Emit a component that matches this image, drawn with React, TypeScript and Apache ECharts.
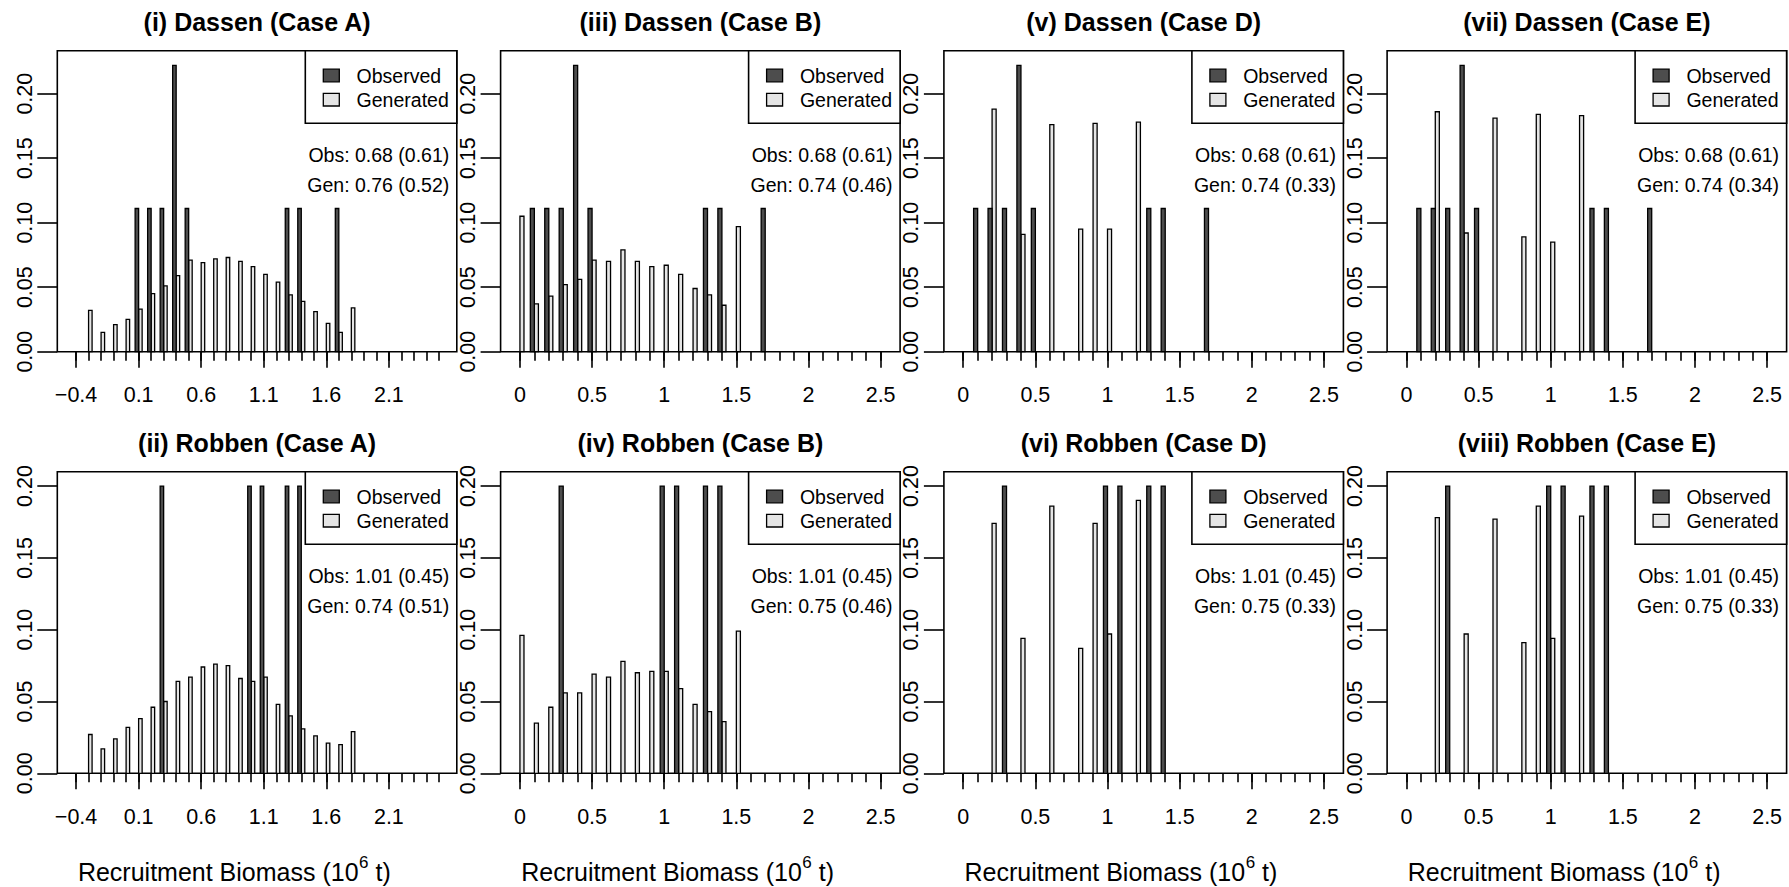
import React, { useEffect, useRef } from "react";
import * as echarts from "echarts";

const FONT = '"Liberation Sans", Arial, Helvetica, sans-serif';

// ---------------- data ----------------
const dassenTitles = ["(i) Dassen (Case A)", "(iii) Dassen (Case B)", "(v) Dassen (Case D)", "(vii) Dassen (Case E)"];
const robbenTitles = ["(ii) Robben (Case A)", "(iv) Robben (Case B)", "(vi) Robben (Case D)", "(viii) Robben (Case E)"];

const dassenObsStat = "Obs: 0.68 (0.61)";
const robbenObsStat = "Obs: 1.01 (0.45)";
const dassenGenStats = ["Gen: 0.76 (0.52)", "Gen: 0.74 (0.46)", "Gen: 0.74 (0.33)", "Gen: 0.74 (0.34)"];
const robbenGenStats = ["Gen: 0.74 (0.51)", "Gen: 0.75 (0.46)", "Gen: 0.75 (0.33)", "Gen: 0.75 (0.33)"];

const legendLabels = ["Observed", "Generated"];
const xTitleParts = ["Recruitment Biomass (10", "6", " t)"];

// observed relative frequencies (same in every case)
const dassenObsBins = [0.1, 0.2, 0.3, 0.4, 0.5, 1.3, 1.4, 1.7];
const dassenObsFreq = [0.111, 0.111, 0.111, 0.222, 0.111, 0.111, 0.111, 0.111];
const robbenObsBins = [0.3, 1.0, 1.1, 1.3, 1.4];
const robbenObsFreq = [0.2, 0.2, 0.2, 0.2, 0.2];

// generated relative frequencies
const genBinsA = [-0.3, -0.2, -0.1, 0.0, 0.1, 0.2, 0.3, 0.4, 0.5, 0.6, 0.7, 0.8, 0.9, 1.0, 1.1, 1.2, 1.3, 1.4, 1.5, 1.6, 1.7, 1.8];
const dassenGenA = [0.032, 0.015, 0.021, 0.025, 0.033, 0.045, 0.051, 0.059, 0.071, 0.069, 0.072, 0.073, 0.070, 0.066, 0.060, 0.054, 0.044, 0.039, 0.031, 0.022, 0.015, 0.034];
const robbenGenA = [0.027, 0.017, 0.024, 0.032, 0.038, 0.046, 0.050, 0.064, 0.067, 0.074, 0.076, 0.075, 0.066, 0.064, 0.067, 0.048, 0.040, 0.031, 0.026, 0.021, 0.020, 0.029];

const genBinsB = [0.0, 0.1, 0.2, 0.3, 0.4, 0.5, 0.6, 0.7, 0.8, 0.9, 1.0, 1.1, 1.2, 1.3, 1.4, 1.5];
const dassenGenB = [0.105, 0.037, 0.043, 0.052, 0.056, 0.071, 0.070, 0.079, 0.070, 0.066, 0.067, 0.060, 0.049, 0.044, 0.036, 0.097];
const robbenGenB = [0.096, 0.035, 0.046, 0.056, 0.056, 0.069, 0.067, 0.078, 0.070, 0.071, 0.071, 0.059, 0.048, 0.043, 0.036, 0.099];

const genBinsDE = [0.2, 0.4, 0.6, 0.8, 0.9, 1.0, 1.2];
const dassenGenD = [0.188, 0.091, 0.176, 0.095, 0.177, 0.095, 0.178];
const robbenGenD = [0.174, 0.094, 0.186, 0.087, 0.174, 0.097, 0.190];
const dassenGenE = [0.186, 0.092, 0.181, 0.089, 0.184, 0.085, 0.183];
const robbenGenE = [0.178, 0.097, 0.177, 0.091, 0.186, 0.094, 0.179];

// axis ticks
const yTickValues = [0, 0.05, 0.1, 0.15, 0.2];
const yTickLabels = ["0.00", "0.05", "0.10", "0.15", "0.20"];
const yMaxDassen = 0.2333;
const yMaxRobben = 0.21;

const xMajorA = [-0.4, 0.1, 0.6, 1.1, 1.6, 2.1];
const xMajorLabelsA = ["\u22120.4", "0.1", "0.6", "1.1", "1.6", "2.1"];
const xMajorB = [0, 0.5, 1, 1.5, 2, 2.5];
const xMajorLabelsB = ["0", "0.5", "1", "1.5", "2", "2.5"];
const xMinorStart = [-0.4, 0, 0, 0];
const xMinorEnd = 2.5;

// ---------------- layout / style ----------------
const W = 1789;
const H = 887;
const COL_LEFT = [57.3, 500.6, 943.9, 1387.1];
const BOX_W = 399.5;
const ROW_TOP = [50.7, 471.7];
const ROW_BOTTOM = [351.7, 773.3];
const X_RANGE_A = [-0.55, 2.643];
const X_RANGE_B = [-0.134, 2.635];
const BAR_W = 0.028; // bar width in data units
const OBS_COLOR = "#4d4d4d";
const GEN_COLOR = "#e5e5e5";
const LINE_W = 1.6;
const BAR_LINE_W = 1.3;
const TICK_FS = 21.5;
const LEG_FS = 19.5;
const TITLE_FS = 25;
const XTITLE_FS = 25;
const SUP_FS = 17;

function measure(text: string, size: number, weight = "normal") {
  const c = document.createElement("canvas").getContext("2d");
  if (!c) return text.length * size * 0.55;
  c.font = `${weight} ${size}px "Liberation Sans", Arial, sans-serif`;
  return c.measureText(text).width;
}

function minorTicks(start: number) {
  const out: number[] = [];
  for (let k = 0; ; k++) {
    const v = Math.round((start + k * 0.1) * 10) / 10;
    if (v > xMinorEnd + 1e-9) break;
    out.push(v);
  }
  return out;
}

function buildOption() {
  const panels: any[] = [];
  const genD = [dassenGenA, dassenGenB, dassenGenD, dassenGenE];
  const genR = [robbenGenA, robbenGenB, robbenGenD, robbenGenE];
  const genBins = [genBinsA, genBinsB, genBinsDE, genBinsDE];
  for (let c = 0; c < 4; c++) {
    panels.push({
      row: 0, col: c, title: dassenTitles[c], obsBins: dassenObsBins, obsFreq: dassenObsFreq,
      genBins: genBins[c], genFreq: genD[c], stats: [dassenObsStat, dassenGenStats[c]], yMax: yMaxDassen,
    });
    panels.push({
      row: 1, col: c, title: robbenTitles[c], obsBins: robbenObsBins, obsFreq: robbenObsFreq,
      genBins: genBins[c], genFreq: genR[c], stats: [robbenObsStat, robbenGenStats[c]], yMax: yMaxRobben,
    });
  }

  const grids: any[] = [];
  const xAxes: any[] = [];
  const yAxes: any[] = [];
  const series: any[] = [];
  const elements: any[] = [];

  panels.forEach((p, i) => {
    const left = COL_LEFT[p.col];
    const top = ROW_TOP[p.row];
    const bottom = ROW_BOTTOM[p.row];
    const right = left + BOX_W;
    const isA = p.col === 0;
    const range = isA ? X_RANGE_A : X_RANGE_B;
    const majors = isA ? xMajorA : xMajorB;
    const majorLabels = isA ? xMajorLabelsA : xMajorLabelsB;
    const minors = minorTicks(xMinorStart[p.col]);

    grids.push({
      left, top, width: BOX_W, height: bottom - top,
      show: true, borderColor: "#000", borderWidth: LINE_W, backgroundColor: "transparent",
      containLabel: false,
    });
    // minor ticks axis (series bound here)
    xAxes.push({
      type: "value", gridIndex: i, min: range[0], max: range[1], position: "bottom",
      axisLine: { show: false, onZero: false },
      splitLine: { show: false },
      axisTick: { show: true, length: 9, customValues: minors, lineStyle: { color: "#000", width: LINE_W } },
      axisLabel: { show: false },
    });
    // major ticks + labels axis
    xAxes.push({
      type: "value", gridIndex: i, min: range[0], max: range[1], position: "bottom",
      axisLine: { show: false, onZero: false },
      splitLine: { show: false },
      axisTick: { show: true, length: 16, customValues: majors, lineStyle: { color: "#000", width: LINE_W } },
      axisLabel: {
        show: true, customValues: majors, margin: 32.5, fontSize: TICK_FS, color: "#000", fontFamily: FONT,
        formatter: (v: number) => {
          const k = majors.findIndex((m) => Math.abs(m - v) < 1e-6);
          return k >= 0 ? majorLabels[k] : "";
        },
      },
    });
    yAxes.push({
      type: "value", gridIndex: i, min: 0, max: p.yMax, position: "left",
      axisLine: { show: false, onZero: false },
      splitLine: { show: false },
      axisTick: { show: true, length: 20, customValues: yTickValues, lineStyle: { color: "#000", width: LINE_W } },
      axisLabel: {
        show: true, customValues: yTickValues, rotate: 90, margin: 21.5, fontSize: TICK_FS, color: "#000", fontFamily: FONT,
        formatter: (v: number) => {
          const k = yTickValues.findIndex((m) => Math.abs(m - v) < 1e-6);
          return k >= 0 ? yTickLabels[k] : "";
        },
      },
    });

    const makeSeries = (bins: number[], freq: number[], fill: string, side: number, name: string) => ({
      type: "custom",
      name,
      xAxisIndex: i * 2,
      yAxisIndex: i,
      data: bins.map((b, k) => [b, freq[k]]),
      renderItem: (_params: any, api: any) => {
        const t = api.value(0);
        const v = api.value(1);
        const x0 = side < 0 ? t - BAR_W : t;
        const x1 = side < 0 ? t : t + BAR_W;
        const a = api.coord([x0, v]);
        const b = api.coord([x1, 0]);
        return {
          type: "rect",
          shape: { x: a[0], y: a[1], width: b[0] - a[0], height: b[1] - a[1] },
          style: { fill, stroke: "#000", lineWidth: BAR_LINE_W },
        };
      },
    });
    series.push(makeSeries(p.genBins, p.genFreq, GEN_COLOR, 1, legendLabels[1]));
    series.push(makeSeries(p.obsBins, p.obsFreq, OBS_COLOR, -1, legendLabels[0]));

    // panel title
    elements.push({
      type: "text", x: left + BOX_W / 2, y: top - 28.7, z: 100,
      style: {
        text: p.title, fontSize: TITLE_FS, fontWeight: "bold", fontFamily: FONT, fill: "#000",
        align: "center", verticalAlign: "middle", textAlign: "center", textVerticalAlign: "middle",
      },
    });

    // legend box
    const legW = 151.5;
    const legL = right - legW;
    elements.push({
      type: "rect", z: 100,
      shape: { x: legL, y: top, width: legW, height: 72.5 },
      style: { fill: "#fff", stroke: "#000", lineWidth: LINE_W },
    });
    [OBS_COLOR, GEN_COLOR].forEach((col, k) => {
      const cy = top + 24.8 + k * 24.2;
      elements.push({
        type: "rect", z: 101,
        shape: { x: legL + 18, y: cy - 6.3, width: 16, height: 12.6 },
        style: { fill: col, stroke: "#000", lineWidth: BAR_LINE_W },
      });
      elements.push({
        type: "text", x: legL + 51.3, y: cy + 0.6, z: 101,
        style: {
          text: legendLabels[k], fontSize: LEG_FS, fontFamily: FONT, fill: "#000",
          align: "left", verticalAlign: "middle", textAlign: "left", textVerticalAlign: "middle",
        },
      });
    });

    // stats
    p.stats.forEach((s: string, k: number) => {
      elements.push({
        type: "text", x: right - 7.5, y: top + 104.5 + k * 29.5, z: 101,
        style: {
          text: s, fontSize: LEG_FS, fontFamily: FONT, fill: "#000",
          align: "right", verticalAlign: "middle", textAlign: "right", textVerticalAlign: "middle",
        },
      });
    });

    // x axis title (bottom row only)
    if (p.row === 1) {
      const w1 = measure(xTitleParts[0], XTITLE_FS);
      const w2 = measure(xTitleParts[1], SUP_FS);
      const w3 = measure(xTitleParts[2], XTITLE_FS);
      const cx = left + BOX_W / 2 - 23;
      const x0 = cx - (w1 + w2 + w3) / 2;
      const yMain = 872;
      const common = { fontFamily: FONT, fill: "#000", align: "left", textAlign: "left", verticalAlign: "middle", textVerticalAlign: "middle" };
      elements.push({ type: "text", x: x0, y: yMain, z: 100, style: { ...common, text: xTitleParts[0], fontSize: XTITLE_FS } });
      elements.push({ type: "text", x: x0 + w1 + 0.5, y: yMain - 9.5, z: 100, style: { ...common, text: xTitleParts[1], fontSize: SUP_FS } });
      elements.push({ type: "text", x: x0 + w1 + w2 + 0.5, y: yMain, z: 100, style: { ...common, text: xTitleParts[2], fontSize: XTITLE_FS } });
    }
  });

  return {
    animation: false,
    backgroundColor: "#fff",
    textStyle: { fontFamily: FONT, color: "#000" },
    grid: grids,
    xAxis: xAxes,
    yAxis: yAxes,
    series,
    graphic: { elements },
  };
}

export default function App() {
  const ref = useRef<HTMLDivElement>(null);
  useEffect(() => {
    if (!ref.current) return;
    const chart = echarts.init(ref.current, null, { renderer: "svg", width: W, height: H });
    chart.setOption(buildOption() as any);
    return () => chart.dispose();
  }, []);
  return (
    <div
      ref={ref}
      style={{ position: "fixed", left: 0, top: 0, width: W, height: H, background: "#fff" }}
    />
  );
}
